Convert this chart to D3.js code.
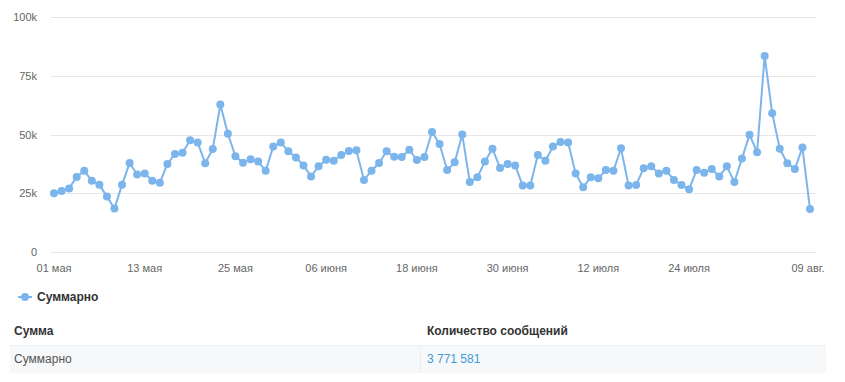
<!DOCTYPE html>
<html><head><meta charset="utf-8">
<script src="https://cdn.jsdelivr.net/npm/d3@7"></script>
<style>
body{margin:0;background:#fff;font-family:"Liberation Sans",Arial,sans-serif;}
svg{display:block;}
</style></head>
<body>
<svg id="c" width="845" height="382"></svg>
<script>
const startDate = "2024-05-01";
const values = [
 25.0,26.0,27.1,32.0,34.6,30.4,28.7,23.6,18.5,28.7,37.9,33.0,33.5,30.4,29.5,
 37.5,41.8,42.3,47.6,46.7,37.8,43.9,62.8,50.4,40.8,38.0,39.5,38.6,34.6,44.9,
 46.7,42.9,40.3,36.9,32.2,36.5,39.3,38.9,41.3,43.0,43.3,30.7,34.6,37.9,42.9,
 40.6,40.5,43.6,39.2,40.5,51.1,46.0,34.9,38.2,50.1,29.8,31.8,38.6,44.0,35.8,
 37.5,36.9,28.3,28.3,41.3,38.9,44.9,46.9,46.7,33.5,27.6,31.8,31.4,34.9,34.6,
 44.2,28.3,28.5,35.7,36.5,33.4,34.6,30.7,28.5,26.7,34.9,33.8,35.4,32.2,36.5,
 29.8,39.8,50.0,42.5,83.5,59.1,44.0,37.8,35.4,44.5,18.3
].map(v => v * 1000);
const tickDates = ["2024-05-01","2024-05-13","2024-05-25","2024-06-06","2024-06-18","2024-06-30","2024-07-12","2024-07-24","2024-08-09"];
const tickLabels = ["01 мая","13 мая","25 мая","06 июня","18 июня","30 июня","12 июля","24 июля","09 авг."];
const yTicks = [0,25000,50000,75000,100000];
const yTickLabels = ["0","25k","50k","75k","100k"];
const seriesName = "Суммарно";
const tableHeaders = ["Сумма","Количество сообщений"];
const tableRow = ["Суммарно","3 771 581"];

const parse = d3.utcParse("%Y-%m-%d");
const start = parse(startDate);
const dates = values.map((v,i) => d3.utcDay.offset(start, i));
const data = dates.map((d,i) => ({date:d, value:values[i]}));

const svg = d3.select("#c");
const x = d3.scaleUtc().domain([dates[0], dates[dates.length-1]]).range([54, 810]);
const y = d3.scaleLinear().domain([0,100000]).range([252, 17.3]);

const color = "#7cb5ec";

// gridlines
svg.append("g").selectAll("line").data(yTicks).join("line")
  .attr("x1",51).attr("x2",816)
  .attr("y1",d=>Math.round(y(d))+0.5).attr("y2",d=>Math.round(y(d))+0.5)
  .attr("stroke","#e6e6e6").attr("stroke-width",1);

// y labels
svg.append("g").selectAll("text").data(yTicks).join("text")
  .attr("x",37).attr("y",d=>y(d)+4)
  .attr("text-anchor","end").attr("fill","#666").attr("font-size","11px")
  .text((d,i)=>yTickLabels[i]);

// x labels
svg.append("g").selectAll("text").data(tickDates).join("text")
  .attr("x",(d,i)=> i===tickDates.length-1 ? x(parse(d))-2 : x(parse(d)))
  .attr("y",272)
  .attr("text-anchor","middle").attr("fill","#666").attr("font-size","11px")
  .text((d,i)=>tickLabels[i]);

// line
const line = d3.line().x(d=>x(d.date)).y(d=>y(d.value));
svg.append("path").datum(data).attr("d",line)
  .attr("fill","none").attr("stroke",color).attr("stroke-width",2)
  .attr("stroke-linejoin","round").attr("stroke-linecap","round");

svg.append("g").selectAll("circle").data(data).join("circle")
  .attr("cx",d=>x(d.date)).attr("cy",d=>y(d.value)).attr("r",4)
  .attr("fill",color);

// legend
const lg = svg.append("g").attr("transform","translate(18,297)");
lg.append("line").attr("x1",0).attr("x2",14).attr("y1",0).attr("y2",0)
  .attr("stroke",color).attr("stroke-width",2);
lg.append("circle").attr("cx",7).attr("cy",0).attr("r",4).attr("fill",color);
lg.append("text").attr("x",19).attr("y",4).attr("font-size","12px")
  .attr("font-weight","bold").attr("fill","#333").text(seriesName);

// table
const tg = svg.append("g");
tg.append("rect").attr("x",10).attr("y",345).attr("width",816).attr("height",28).attr("fill","#f7f8f9");
tg.append("line").attr("x1",10).attr("x2",826).attr("y1",345.5).attr("y2",345.5).attr("stroke","#eceef0");
tg.append("line").attr("x1",420.5).attr("x2",420.5).attr("y1",345).attr("y2",373).attr("stroke","#eceef0");
const colX = [14, 427];
tg.selectAll("text.h").data(tableHeaders).join("text").attr("class","h")
  .attr("x",(d,i)=>colX[i]).attr("y",335).attr("font-size","12px").attr("font-weight","bold")
  .attr("fill","#333").text(d=>d);
tg.selectAll("text.r").data(tableRow).join("text").attr("class","r")
  .attr("x",(d,i)=>colX[i]).attr("y",363).attr("font-size","12px")
  .attr("fill",(d,i)=> i===1 ? "#3d9bd9" : "#555").text(d=>d);
</script>
</body></html>
